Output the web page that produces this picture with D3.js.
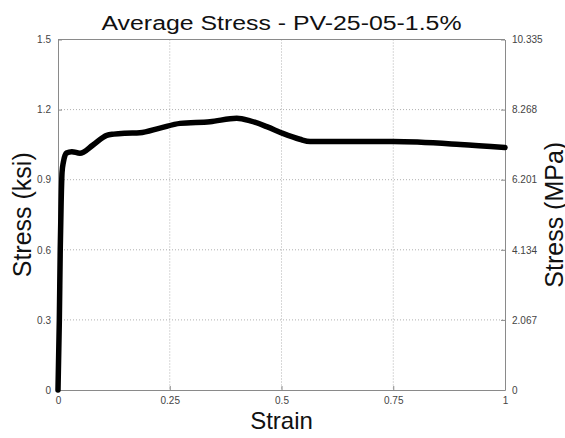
<!DOCTYPE html>
<html>
<head>
<meta charset="utf-8">
<script src="https://cdn.jsdelivr.net/npm/d3@7"></script>
<style>
  body { margin: 0; background: #fff; }
  text { font-family: "Liberation Sans", Arial, sans-serif; }
</style>
</head>
<body>
<div id="vis"></div>
<script>
// values
const strain = [0, 0.003, 0.005, 0.007, 0.009, 0.012, 0.019, 0.031, 0.049, 0.078, 0.109, 0.125, 0.15, 0.183, 0.228, 0.273, 0.34, 0.40, 0.43, 0.467, 0.503, 0.541, 0.564, 0.631, 0.75, 0.9, 1.0]
const stress = [0, 0.3, 0.6, 0.8, 0.93, 0.975, 1.014, 1.02, 1.013, 1.048, 1.09, 1.095, 1.099, 1.101, 1.121, 1.141, 1.148, 1.163, 1.152, 1.127, 1.098, 1.073, 1.063, 1.063, 1.063, 1.051, 1.038]
const xTicks = [0, 0.25, 0.5, 0.75, 1]
const ksiTicks = [0, 0.3, 0.6, 0.9, 1.2, 1.5]
const mpaTicks = ["0", "2.067", "4.134", "6.201", "8.268", "10.335"]

const W = 565, H = 438
const margin = {top: 39.5, right: 60, bottom: 48, left: 58}
const width = W - margin.left - margin.right
const height = H - margin.top - margin.bottom

const svg = d3.select("#vis").append("svg")
    .attr("width", W)
    .attr("height", H)

const g = svg.append("g")
    .attr("transform", "translate(" + margin.left + "," + margin.top + ")")

const x = d3.scaleLinear().domain([0, 1]).range([0, width])
const y = d3.scaleLinear().domain([0, 1.5]).range([height, 0])
const y2 = d3.scaleLinear().domain([0, 10.335]).range([height, 0])

// dotted grid
g.append("g").selectAll("line")
    .data(xTicks.slice(1, -1))
    .enter().append("line")
    .attr("x1", d => x(d)).attr("x2", d => x(d))
    .attr("y1", 0).attr("y2", height)
    .attr("stroke", "#b0b0b0").attr("stroke-width", 1)
    .attr("stroke-dasharray", "1,2")

g.append("g").selectAll("line")
    .data(ksiTicks.slice(1, -1))
    .enter().append("line")
    .attr("x1", 0).attr("x2", width)
    .attr("y1", d => y(d)).attr("y2", d => y(d))
    .attr("stroke", "#b0b0b0").attr("stroke-width", 1)
    .attr("stroke-dasharray", "1,2")

// axes, ticks point inward like matlab
const axisColor = "#8a8a8a"
function styleAxis(sel) {
    sel.select(".domain").attr("stroke", axisColor)
    sel.selectAll(".tick line").attr("stroke", axisColor)
    sel.selectAll(".tick text").attr("fill", "#444").style("font-size", "10px")
}

g.append("g")
    .attr("transform", "translate(0," + height + ")")
    .call(d3.axisBottom(x).tickValues(xTicks).tickFormat(d => String(d)).tickSizeInner(-4).tickSizeOuter(0).tickPadding(7))
    .call(styleAxis)

g.append("g")
    .call(d3.axisLeft(y).tickValues(ksiTicks).tickFormat(d => String(d)).tickSizeInner(-4).tickSizeOuter(0).tickPadding(7))
    .call(styleAxis)

g.append("g")
    .attr("transform", "translate(" + width + ",0)")
    .call(d3.axisRight(y2).tickValues(mpaTicks.map(Number)).tickFormat((d, i) => mpaTicks[i]).tickSizeInner(-4).tickSizeOuter(0).tickPadding(7))
    .call(styleAxis)

// top border
g.append("line")
    .attr("x1", 0).attr("x2", width).attr("y1", 0).attr("y2", 0)
    .attr("stroke", axisColor)

// the stress curve
const line = d3.line()
    .x((d, i) => x(strain[i]))
    .y(d => y(d))
    .curve(d3.curveMonotoneX)

g.append("path")
    .datum(stress)
    .attr("fill", "none")
    .attr("stroke", "#000")
    .attr("stroke-width", 5.5)
    .attr("stroke-linejoin", "round")
    .attr("stroke-linecap", "round")
    .attr("d", line)

// titles
svg.append("text")
    .attr("x", margin.left + width / 2).attr("y", 30)
    .attr("text-anchor", "middle")
    .attr("textLength", 360).attr("lengthAdjust", "spacingAndGlyphs")
    .style("font-size", "20px").attr("fill", "#111")
    .text("Average Stress - PV-25-05-1.5%")

svg.append("text")
    .attr("x", margin.left + width / 2).attr("y", 429)
    .attr("text-anchor", "middle")
    .style("font-size", "24px").attr("fill", "#111")
    .text("Strain")

svg.append("text")
    .attr("transform", "translate(31," + (margin.top + height / 2) + ")rotate(-90)")
    .attr("text-anchor", "middle")
    .style("font-size", "25px").attr("fill", "#111")
    .text("Stress (ksi)")

svg.append("text")
    .attr("transform", "translate(563," + (margin.top + height / 2) + ")rotate(-90)")
    .attr("text-anchor", "middle")
    .style("font-size", "25px").attr("fill", "#111")
    .text("Stress (MPa)")
</script>
</body>
</html>
